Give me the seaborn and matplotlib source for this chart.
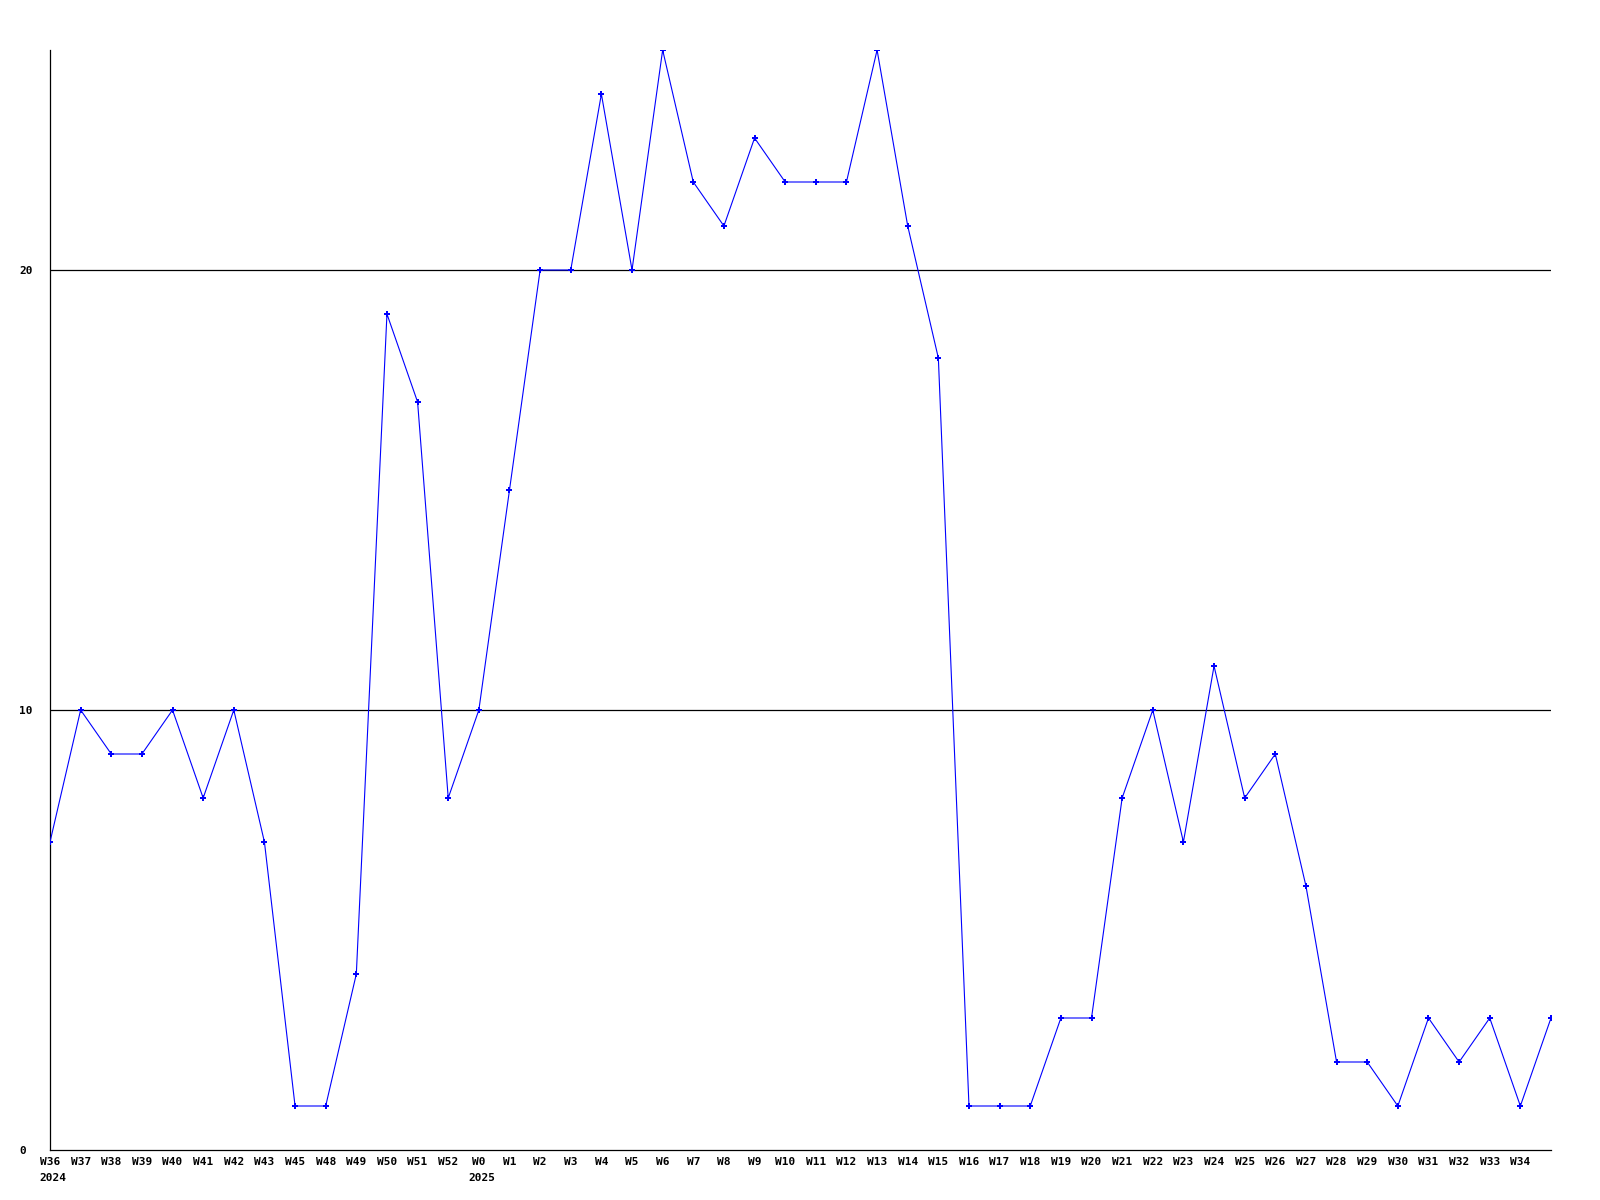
import matplotlib
matplotlib.use("Agg")
import matplotlib.pyplot as plt
import seaborn as sns
import pandas as pd

weeks = ["W36", "W37", "W38", "W39", "W40", "W41", "W42", "W43", "W45", "W48",
         "W49", "W50", "W51", "W52", "W0", "W1", "W2", "W3", "W4", "W5",
         "W6", "W7", "W8", "W9", "W10", "W11", "W12", "W13", "W14", "W15",
         "W16", "W17", "W18", "W19", "W20", "W21", "W22", "W23", "W24", "W25",
         "W26", "W27", "W28", "W29", "W30", "W31", "W32", "W33", "W34", ""]
values = [7, 10, 9, 9, 10, 8, 10, 7, 1, 1,
          4, 19, 17, 8, 10, 15, 20, 20, 24, 20,
          25, 22, 21, 23, 22, 22, 22, 25, 21, 18,
          1, 1, 1, 3, 3, 8, 10, 7, 11, 8,
          9, 6, 2, 2, 1, 3, 2, 3, 1, 3]
years = {0: "2024", 14: "2025"}
y_ticks = [0, 10, 20]

sns.set_style("white")
plt.rcParams["font.family"] = ["DejaVu Sans Mono", "DejaVu Sans"]
plt.rcParams["font.weight"] = "bold"
plt.rcParams["text.color"] = "black"
plt.rcParams["xtick.color"] = "black"
plt.rcParams["ytick.color"] = "black"

df = pd.DataFrame({"idx": range(len(values)), "value": values})

fig = plt.figure(figsize=(16, 12), dpi=100)
ax = fig.add_axes([50 / 1600, 1 - 1150 / 1200, 1501 / 1600, 1100 / 1200])

for yv in y_ticks[1:]:
    ax.axhline(yv, color="black", linewidth=0.9, zorder=1)

sns.lineplot(data=df, x="idx", y="value", ax=ax, color="#0000ff", linewidth=0.8,
             marker="P", markersize=4.5, markeredgewidth=0, zorder=3)

ax.set_xlim(0, len(values) - 1)
ax.set_ylim(0, 25)
ax.set_xticks(range(len(weeks) - 1))
ax.set_xticklabels(weeks[:-1], fontsize=8, fontweight="bold", color="black")
ax.set_yticks(y_ticks)
ax.set_yticklabels([str(v) for v in y_ticks], fontsize=8, fontweight="bold", color="black")
for lab in ax.get_yticklabels():
    lab.set_horizontalalignment("left")
ax.tick_params(axis="y", length=0, pad=22.3)
ax.tick_params(axis="x", length=0, pad=5)
ax.set_xlabel("")
ax.set_ylabel("")
ax.grid(False)

for side in ["top", "right"]:
    ax.spines[side].set_visible(False)
for side in ["left", "bottom"]:
    ax.spines[side].set_color("black")
    ax.spines[side].set_linewidth(0.9)

for i, yr in years.items():
    ax.annotate(yr, xy=(i, 0), xycoords=("data", "axes fraction"),
                xytext=(-10.4, -31), textcoords="offset pixels",
                ha="left", va="baseline", fontsize=8, fontweight="bold",
                color="black", annotation_clip=False)

fig.savefig("out.png", dpi=100, facecolor="white")
